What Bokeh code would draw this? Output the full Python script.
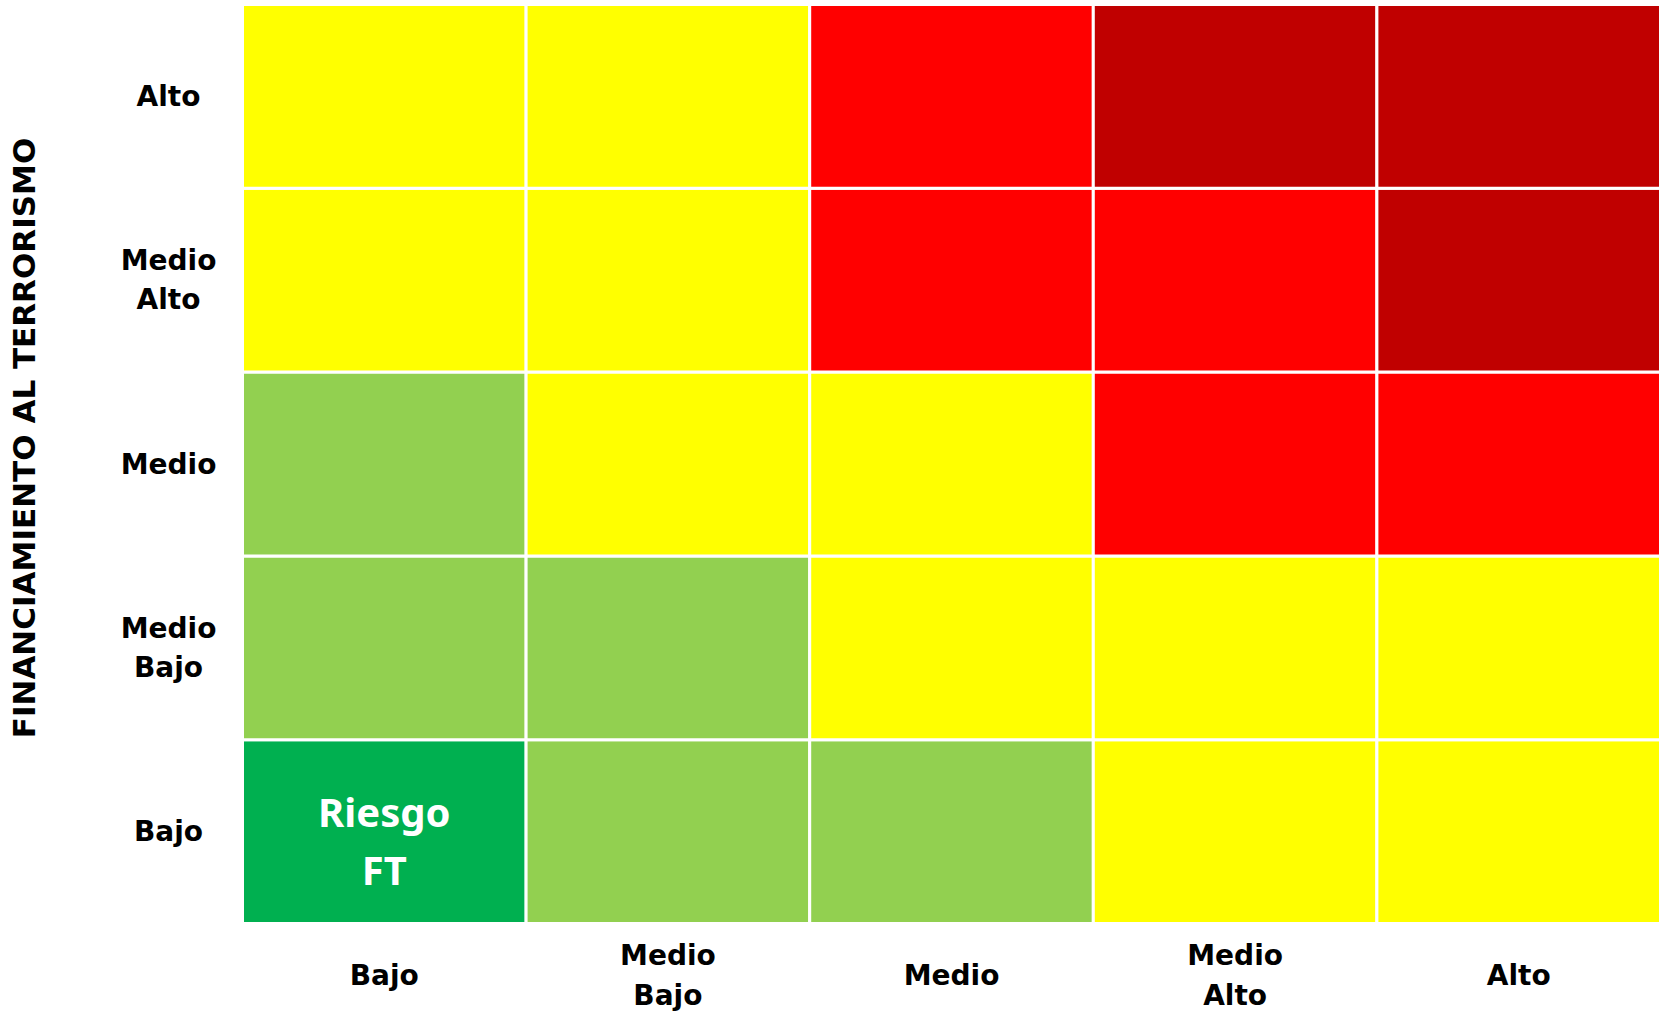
import math
from bokeh.plotting import figure
from bokeh.models import ColumnDataSource, Range1d
from bokeh.core.properties import value
from bokeh.embed import file_html
from bokeh.resources import INLINE

# Impact (x) categories, left to right
x_cats = ["Bajo", "Medio Bajo", "Medio", "Medio Alto", "Alto"]
x_tick_labels = ["Bajo", "Medio\nBajo", "Medio", "Medio\nAlto", "Alto"]
# Likelihood (y) categories, bottom to top
y_cats = ["Bajo", "Medio Bajo", "Medio", "Medio Alto", "Alto"]
y_tick_labels = ["Bajo", "Medio\nBajo", "Medio", "Medio\nAlto", "Alto"]
y_title = "FINANCIAMIENTO AL TERRORISMO"

# risk level per cell, rows bottom->top, cols left->right
# 0 = bajo, 1 = medio bajo, 2 = medio, 3 = alto, 4 = extremo
levels = [
    [0, 1, 1, 2, 2],   # Bajo
    [1, 1, 2, 2, 2],   # Medio Bajo
    [1, 2, 2, 3, 3],   # Medio
    [2, 2, 3, 3, 4],   # Medio Alto
    [2, 2, 3, 4, 4],   # Alto
]
level_colors = ["#00B050", "#92D050", "#FFFF00", "#FF0000", "#C00000"]

marker_label = "Riesgo\nFT"
marker_x = "Bajo"
marker_y = "Bajo"

# ---- layout (pixels) ----
W, H = 1660, 1028
LEFT, TOP, BOTTOM = 242, 4, 105
cw = (W - LEFT) / len(x_cats)
ch = (H - TOP - BOTTOM) / len(y_cats)

xs, ys, cs = [], [], []
for ri, yc in enumerate(y_cats):
    for ci, xc in enumerate(x_cats):
        xs.append(x_cats.index(xc) + 0.5)
        ys.append(y_cats.index(yc) + 0.5)
        cs.append(level_colors[levels[ri][ci]])
src = ColumnDataSource(dict(x=xs, y=ys, color=cs))

p = figure(width=W, height=H, output_backend="svg", toolbar_location=None,
           x_range=Range1d(-LEFT / cw, len(x_cats)),
           y_range=Range1d(-BOTTOM / ch, len(y_cats) + TOP / ch),
           min_border=0, x_axis_location=None, y_axis_location=None)
p.outline_line_color = None
p.background_fill_color = "white"
p.border_fill_color = "white"
p.xgrid.grid_line_color = None
p.ygrid.grid_line_color = None

p.rect(x="x", y="y", width=1, height=1, source=src, fill_color="color",
       line_color="white", line_width=3)

p.text(x=[x_cats.index(marker_x) + 0.5], y=[y_cats.index(marker_y) + 0.5],
       text=[marker_label], text_color="white",
       text_font=value("Noto Sans"), text_font_style="bold", text_font_size="40px",
       text_align="center", text_baseline="middle", text_line_height=1.05, y_offset=9)

font = value("DejaVu Sans")
# y tick labels
p.text(x=[0] * len(y_cats), y=[i + 0.5 for i in range(len(y_cats))], text=y_tick_labels,
       x_offset=-74, text_font=font, text_font_style="bold", text_font_size="28px",
       text_color="black", text_align="center", text_baseline="middle",
       text_line_height=1.2)
# x tick labels
p.text(x=[i + 0.5 for i in range(len(x_cats))], y=[0] * len(x_cats), text=x_tick_labels,
       y_offset=52, text_font=font, text_font_style="bold", text_font_size="28px",
       text_color="black", text_align="center", text_baseline="middle",
       text_line_height=1.2)
# y axis title
p.text(x=[0], y=[len(y_cats) / 2], text=[y_title], x_offset=-219, y_offset=-26,
       angle=math.pi / 2, text_font=font, text_font_style="bold", text_font_size="31px",
       text_color="black", text_align="center", text_baseline="middle")

open("out.html", "w").write(file_html(p, INLINE))
